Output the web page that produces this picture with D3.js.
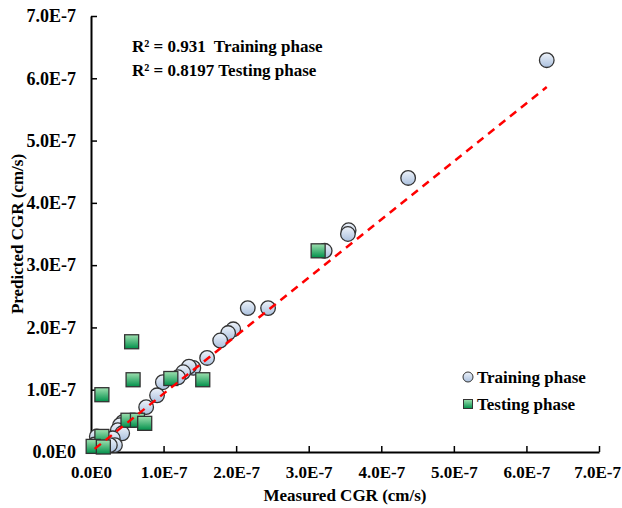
<!DOCTYPE html>
<html>
<head>
<meta charset="utf-8">
<script src="https://cdn.jsdelivr.net/npm/d3@7.9.0/dist/d3.min.js"></script>
<style>
  body { margin: 0; background: #fff; }
  svg { display: block; font-family: "Liberation Serif", "Times New Roman", serif; font-weight: bold; }
</style>
</head>
<body>
<div id="chart"></div>
<script>
// measured / predicted CGR (cm/s)
const trainMeasured = [6.28e-7, 4.37e-7, 3.55e-7, 3.54e-7, 3.22e-7, 2.44e-7, 2.16e-7, 1.96e-7, 1.89e-7, 1.78e-7,
  1.60e-7, 1.41e-7, 1.35e-7, 1.27e-7, 1.20e-7, 0.99e-7, 0.91e-7, 0.76e-7, 0.44e-7, 0.40e-7,
  0.37e-7, 0.43e-7, 0.30e-7, 0.33e-7, 0.26e-7, 0.08e-7, 0.05e-7];
const trainPredicted = [6.29e-7, 4.40e-7, 3.56e-7, 3.50e-7, 3.23e-7, 2.31e-7, 2.31e-7, 1.97e-7, 1.91e-7, 1.79e-7,
  1.51e-7, 1.35e-7, 1.37e-7, 1.28e-7, 1.20e-7, 1.12e-7, 0.91e-7, 0.72e-7, 0.48e-7, 0.43e-7,
  0.35e-7, 0.30e-7, 0.22e-7, 0.11e-7, 0.11e-7, 0.25e-7, 0.12e-7];

const testMeasured = [3.13e-7, 1.54e-7, 1.10e-7, 0.58e-7, 0.56e-7, 0.15e-7, 0.51e-7, 0.64e-7, 0.74e-7, 0.15e-7, 0.03e-7, 0.17e-7];
const testPredicted = [3.23e-7, 1.16e-7, 1.18e-7, 1.16e-7, 1.77e-7, 0.92e-7, 0.51e-7, 0.51e-7, 0.46e-7, 0.25e-7, 0.09e-7, 0.08e-7];

// fitted trend line (ends)
const fitX = [0.05e-7, 6.28e-7];
const fitY = [0.05e-7, 5.86e-7];

const tickValues = [0, 1e-7, 2e-7, 3e-7, 4e-7, 5e-7, 6e-7, 7e-7];
const r2Lines = ['R\u00B2 = 0.931', 'R\u00B2 = 0.8197'];
const r2Labels = ['Training phase', 'Testing phase'];

const width = 622, height = 508;
const plot = { left: 91, right: 599, top: 16, bottom: 452 };

const svg = d3.select('#chart').append('svg')
  .attr('width', width).attr('height', height);

const defs = svg.append('defs');
const cg = defs.append('linearGradient').attr('id', 'circGrad')
  .attr('x1', 0).attr('y1', 0).attr('x2', 0).attr('y2', 1);
cg.append('stop').attr('offset', '0%').attr('stop-color', '#eef3fa');
cg.append('stop').attr('offset', '100%').attr('stop-color', '#aac0de');
const sg = defs.append('linearGradient').attr('id', 'sqGrad')
  .attr('x1', 0).attr('y1', 0).attr('x2', 0).attr('y2', 1);
sg.append('stop').attr('offset', '0%').attr('stop-color', '#9fe0b0');
sg.append('stop').attr('offset', '100%').attr('stop-color', '#00904a');

const x = d3.scaleLinear().domain([0, 7e-7]).range([plot.left, plot.right]);
const y = d3.scaleLinear().domain([0, 7e-7]).range([plot.bottom, plot.top]);

const fmt = d => d === 0 ? '0.0E0' : (d * 1e7).toFixed(1) + 'E-7';

// axes
const xAxis = svg.append('g')
  .attr('transform', `translate(0,${plot.bottom})`)
  .call(d3.axisBottom(x).tickValues(tickValues).tickFormat(fmt).tickSizeInner(-6).tickSizeOuter(0).tickPadding(14));
const yAxis = svg.append('g')
  .attr('transform', `translate(${plot.left},0)`)
  .call(d3.axisLeft(y).tickValues(tickValues).tickFormat(fmt).tickSizeInner(-6).tickSizeOuter(0).tickPadding(15));

[xAxis, yAxis].forEach(g => {
  g.select('.domain').attr('stroke', '#000').attr('stroke-width', 2);
  g.selectAll('.tick line').attr('stroke', '#000').attr('stroke-width', 1.5);
  g.selectAll('.tick text').attr('fill', '#000')
    .style('font-family', '"Liberation Serif", serif').style('font-weight', 'bold');
});
yAxis.selectAll('.tick text').style('font-size', '18px');
xAxis.selectAll('.tick text').style('font-size', '17px');
// keep the last label inside the page
xAxis.selectAll('.tick text').filter(d => d === 7e-7).attr('dx', -2);

// axis titles
svg.append('text')
  .attr('x', (plot.left + plot.right) / 2).attr('y', 501)
  .attr('text-anchor', 'middle').style('font-size', '17px')
  .text('Measured CGR (cm/s)');
svg.append('text')
  .attr('transform', `translate(23,${(plot.top + plot.bottom) / 2}) rotate(-90)`)
  .attr('text-anchor', 'middle').style('font-size', '17px')
  .text('Predicted CGR (cm/s)');

// training points
const train = trainMeasured.map((m, i) => ({ m, p: trainPredicted[i] }));
const test = testMeasured.map((m, i) => ({ m, p: testPredicted[i] }));

svg.append('g').selectAll('circle')
  .data(train)
  .join('circle')
  .attr('cx', d => x(d.m))
  .attr('cy', d => y(d.p))
  .attr('r', 7.3)
  .attr('fill', 'url(#circGrad)')
  .attr('stroke', '#333')
  .attr('stroke-width', 1.3);

svg.append('g').selectAll('rect')
  .data(test)
  .join('rect')
  .attr('x', d => x(d.m) - 7)
  .attr('y', d => y(d.p) - 7)
  .attr('width', 14)
  .attr('height', 14)
  .attr('fill', 'url(#sqGrad)')
  .attr('stroke', '#333')
  .attr('stroke-width', 1.3);

// trend line
svg.append('path')
  .datum(fitX.map((v, i) => [v, fitY[i]]))
  .attr('d', d3.line().x(d => x(d[0])).y(d => y(d[1])))
  .attr('fill', 'none')
  .attr('stroke', '#ff0000')
  .attr('stroke-width', 2.5)
  .attr('stroke-dasharray', '8,6');

// R² notes
const notes = svg.append('g').style('font-size', '17px');
r2Lines.forEach((t, i) => {
  const txt = notes.append('text').attr('x', 132).attr('y', 52 + i * 24);
  txt.append('tspan').text(t);
  txt.append('tspan').attr('dx', i === 0 ? 8 : 4).text(r2Labels[i]);
});

// legend
const legend = svg.append('g').style('font-size', '17px');
legend.append('circle').attr('cx', 468).attr('cy', 377).attr('r', 5)
  .attr('fill', 'url(#circGrad)').attr('stroke', '#333').attr('stroke-width', 1);
legend.append('text').attr('x', 477).attr('y', 383).text('Training phase');
legend.append('rect').attr('x', 463.5).attr('y', 399.5).attr('width', 9).attr('height', 9)
  .attr('fill', 'url(#sqGrad)').attr('stroke', '#333').attr('stroke-width', 1);
legend.append('text').attr('x', 477).attr('y', 410).text('Testing phase');
</script>
</body>
</html>
